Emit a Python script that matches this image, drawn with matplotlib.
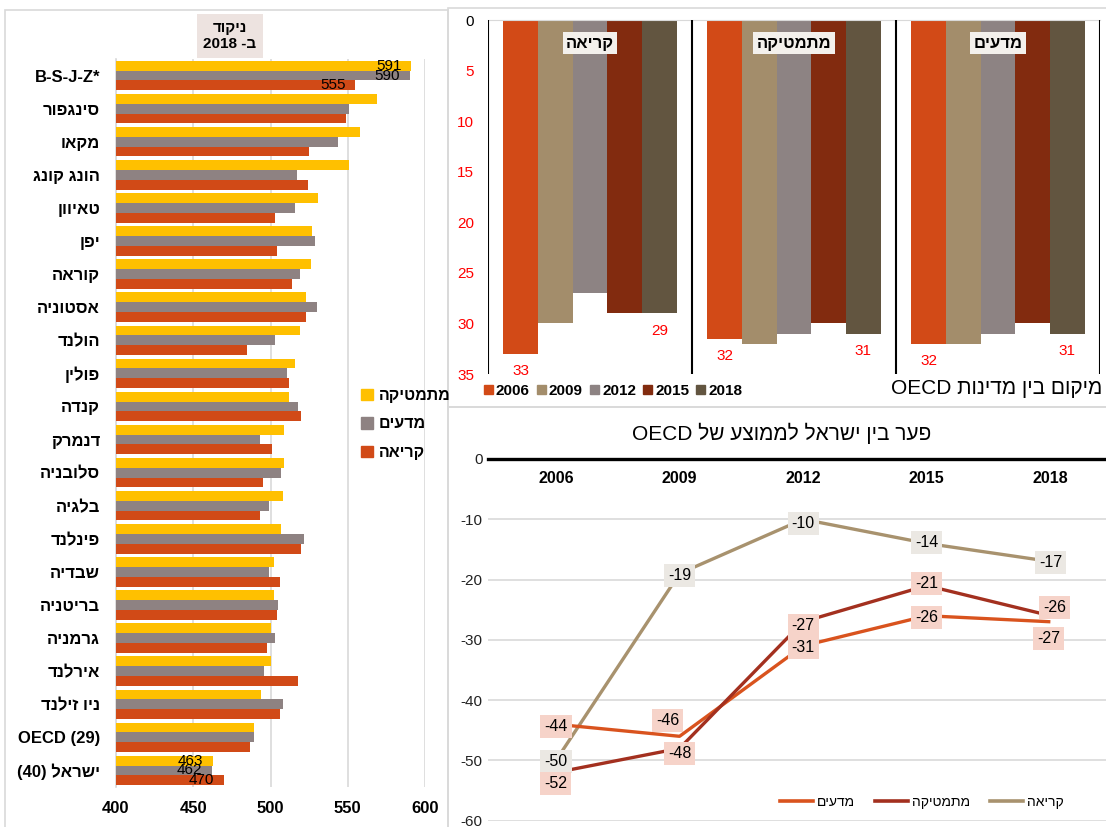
import re
import numpy as np
import matplotlib
matplotlib.use("Agg")
import matplotlib.pyplot as plt
from matplotlib.patches import Rectangle, Patch
from matplotlib.lines import Line2D

plt.rcParams['font.family'] = ['Liberation Sans', 'DejaVu Sans']
plt.rcParams['axes.unicode_minus'] = False


def rtl(s):
    # matplotlib has no bidi - put Hebrew into visual order
    if not re.search('[\u0590-\u05FF]', s):
        return s
    r = s[::-1]
    r = re.sub('[A-Za-z0-9]+', lambda m: m.group(0)[::-1], r)
    return r.translate(str.maketrans('()', ')('))


# --- ציונים 2018 (left) ---
countries = ['B-S-J-Z*', 'סינגפור', 'מקאו', 'הונג קונג', 'טאיוון', 'יפן', 'קוראה',
             'אסטוניה', 'הולנד', 'פולין', 'קנדה', 'דנמרק', 'סלובניה', 'בלגיה',
             'פינלנד', 'שבדיה', 'בריטניה', 'גרמניה', 'אירלנד', 'ניו זילנד',
             'OECD (29)', 'ישראל (40)']
math_2018 = [591, 569, 558, 551, 531, 527, 526, 523, 519, 516, 512, 509, 509, 508,
             507, 502, 502, 500, 500, 494, 489, 463]
science_2018 = [590, 551, 544, 517, 516, 529, 519, 530, 503, 511, 518, 493, 507, 499,
                522, 499, 505, 503, 496, 508, 489, 462]
reading_2018 = [555, 549, 525, 524, 503, 504, 514, 523, 485, 512, 520, 501, 495, 493,
                520, 506, 504, 498, 518, 506, 487, 470]
labelled_rows = [0, 21]
subject_names = ['מתמטיקה', 'מדעים', 'קריאה']

# --- מיקום בין מדינות OECD (top right) ---
years = ['2006', '2009', '2012', '2015', '2018']
rank_groups = ['קריאה', 'מתמטיקה', 'מדעים']
rank_reading = [33, 30, 27, 29, 29]
rank_math = [31.5, 32, 31, 30, 31]
rank_science = [32, 32, 31, 30, 31]

# --- פער מהממוצע (bottom right) ---
gap_science = [-44, -46, -31, -26, -27]
gap_math = [-52, -48, -27, -21, -26]
gap_reading = [-50, -19, -10, -14, -17]

W, H = 1106, 827
def fx(px): return px / W
def fy(py): return 1 - py / H

fig = plt.figure(figsize=(W / 100, H / 100), dpi=100)
border = '#D9D9D9'
for (x0, y0, x1, y1) in [(5, 10, 448, 830), (448, 8, 1110, 407), (448, 407, 1110, 830)]:
    fig.add_artist(Rectangle((fx(x0), fy(y1)), fx(x1) - fx(x0), fy(y0) - fy(y1),
                             transform=fig.transFigure, fill=False, edgecolor=border, lw=1.2))

# ---------------- left: horizontal bars ----------------
c_math, c_sci, c_read = '#FFC000', '#8E8282', '#D14A17'
ax1 = fig.add_axes([fx(116), fy(787), fx(425) - fx(116), (787 - 59) / H])
y = np.arange(len(countries))
h = 0.296
ax1.barh(y - h, math_2018, h, color=c_math, zorder=3)
ax1.barh(y, science_2018, h, color=c_sci, zorder=3)
ax1.barh(y + h, reading_2018, h, color=c_read, zorder=3)
ax1.set_xlim(400, 600)
ax1.set_ylim(len(countries) - 0.5, -0.5)
ax1.set_xticks([400, 450, 500, 550, 600])
ax1.set_yticks(y)
ax1.set_yticklabels([rtl(c) for c in countries], fontsize=12, fontweight='bold')
for lab in ax1.get_xticklabels():
    lab.set_fontweight('bold')
ax1.tick_params(axis='x', length=0, pad=10, labelsize=12)
ax1.tick_params(axis='y', length=0, pad=11.5)
ax1.xaxis.grid(True, color=border, lw=1.2, zorder=0)
for s in ['top', 'right', 'bottom']:
    ax1.spines[s].set_visible(False)
ax1.spines['left'].set_color(border)
ax1.spines['left'].set_linewidth(1.2)
for row in labelled_rows:
    for off, vals in [(-h, math_2018), (0, science_2018), (h, reading_2018)]:
        ax1.annotate(str(vals[row]), (vals[row], row + off), xytext=(-7, 0),
                     textcoords='offset points', ha='right', va='center',
                     fontsize=11, zorder=5)

fig.text(fx(230), fy(36), rtl('ניקוד') + '\n' + rtl('ב- 2018'), ha='center', va='center',
         fontsize=11, fontweight='bold', linespacing=1.15,
         bbox=dict(boxstyle='square,pad=0.45', facecolor='#EDE3E0', edgecolor='none'))

fig.legend([Patch(color=c) for c in (c_math, c_sci, c_read)],
           [rtl(s) for s in subject_names], loc='center left',
           bbox_to_anchor=(fx(347), fy(424)), frameon=False,
           prop={'weight': 'bold', 'size': 11.5}, handlelength=0.7, handleheight=0.7,
           handletextpad=0.4, labelspacing=0.85)

# ---------------- top right: ranks ----------------
year_colors = ['#D24A17', '#A38D6B', '#8D8383', '#822B0F', '#625540']
ax2 = fig.add_axes([fx(488), fy(374), fx(1100) - fx(488), (374 - 20) / H])
ranks = np.array([rank_reading, rank_math, rank_science])
g = np.arange(len(rank_groups))
bw = 0.17
for j, yr in enumerate(years):
    xs = g + (j - 2) * bw
    ax2.bar(xs, ranks[:, j], bw, color=year_colors[j], zorder=2)
    if j in (0, len(years) - 1):
        for xi, v in zip(xs, ranks[:, j]):
            ax2.annotate('%.0f' % v, (xi, v), xytext=(0, -12.5), textcoords='offset points',
                         ha='center', va='center', color='#FF0000', fontsize=11)
ax2.set_xlim(-0.5, 2.5)
ax2.set_ylim(35, 0)
ax2.set_yticks(range(0, 36, 5))
ax2.set_xticks([])
ax2.tick_params(axis='y', length=0, pad=10, labelsize=11)
for i, lab in enumerate(ax2.get_yticklabels()):
    lab.set_color('black' if i == 0 else '#FF0000')
for s in ['left', 'right', 'bottom']:
    ax2.spines[s].set_visible(False)
ax2.spines['top'].set_color(border)
ax2.vlines([-0.5, 0.5, 1.5, 2.5], 0, 35, color='black', lw=1.5, zorder=3)
for gi, name in zip(g, rank_groups):
    ax2.text(gi, 2.3, rtl(name), ha='center', va='center', fontsize=12, fontweight='bold',
             zorder=4, bbox=dict(boxstyle='square,pad=0.2', facecolor='#F3F0EC', edgecolor='none'))

fig.legend([Patch(color=c) for c in year_colors], years, loc='center left',
           bbox_to_anchor=(fx(470), fy(391)), ncol=5, frameon=False,
           prop={'weight': 'bold', 'size': 11}, handlelength=0.6, handleheight=0.6,
           handletextpad=0.2, columnspacing=0.45)
fig.text(fx(1102), fy(389), rtl('מיקום בין מדינות OECD'), ha='right', va='center', fontsize=15)

# ---------------- bottom right: gap lines ----------------
c_l_sci, c_l_math, c_l_read = '#D9531E', '#A3301F', '#A8926E'
pink, beige = '#F6D3C9', '#EBE8E3'
ax3 = fig.add_axes([fx(488), fy(820.7), fx(1106) - fx(488), (820.7 - 459) / H])
xi = np.arange(len(years))
series = [
    (gap_reading, c_l_read, beige, [(0, -1), (0, -1.3), (0, -3), (0, 1), (0, -1)]),
    (gap_science, c_l_sci, pink, [(0, -1.3), (-8.5, 11.7), (0, -1.3), (0, -1.3), (-1, -12)]),
    (gap_math, c_l_math, pink, [(0, -7.8), (0, -3.5), (0, -3), (0, 1.3), (3, 6)]),
]
for vals, col, box, offs in series:
    ax3.plot(xi, vals, color=col, lw=2.4, zorder=3, solid_capstyle='butt')
for vals, col, box, offs in series:
    for i, v in enumerate(vals):
        ax3.annotate(str(v), (i, v), xytext=offs[i], textcoords='offset points',
                     ha='center', va='center', fontsize=11.5, zorder=5,
                     bbox=dict(boxstyle='square,pad=0.25', facecolor=box, edgecolor='none'))
ax3.set_xlim(-0.55, 4.45)
ax3.set_ylim(-60, 0)
ax3.set_yticks(range(-60, 1, 10))
ax3.set_xticks([])
ax3.tick_params(axis='y', length=0, pad=4, labelsize=11, labelcolor='#222222')
ax3.yaxis.grid(True, color=border, lw=1.2, zorder=0)
for s in ['left', 'right', 'bottom']:
    ax3.spines[s].set_visible(False)
ax3.spines['top'].set_color('black')
ax3.spines['top'].set_linewidth(2.4)
for i, yr in enumerate(years):
    ax3.text(i, -3.2, yr, ha='center', va='center', fontsize=11.5, fontweight='bold',
             family=['Liberation Sans Narrow', 'Liberation Sans'])
fig.text(fx(782), fy(433), rtl('פער בין ישראל לממוצע של OECD'), ha='center', va='center',
         fontsize=15)
ax3.legend([Line2D([], [], color=c, lw=2.6) for c in (c_l_sci, c_l_math, c_l_read)],
           [rtl(s) for s in ('מדעים', 'מתמטיקה', 'קריאה')], loc='center',
           bbox_to_anchor=((922 - 488) / 618, (820.7 - 801.7) / 361.7), ncol=3,
           frameon=False, fontsize=10, handlelength=2.4, handletextpad=0.3,
           columnspacing=1.4)

fig.savefig('out.png', dpi=100)
